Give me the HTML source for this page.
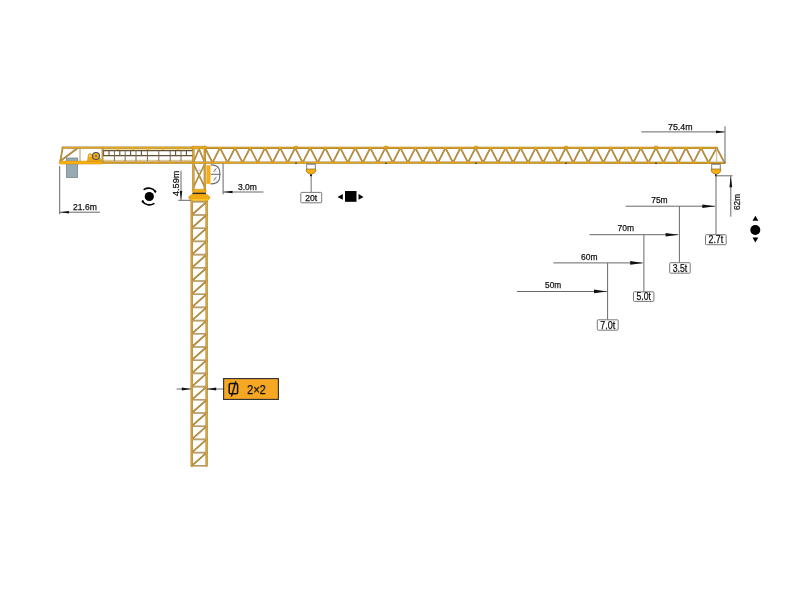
<!DOCTYPE html>
<html><head><meta charset="utf-8"><style>
html,body{margin:0;padding:0;background:#fff;width:800px;height:600px;overflow:hidden}
svg{display:block;filter:blur(0.3px)}
text{font-family:"Liberation Sans",sans-serif;stroke:#111;stroke-width:0.25px}
</style></head><body>
<svg width="800" height="600" viewBox="0 0 800 600">
<rect x="66.3" y="158" width="11.4" height="19.6" fill="#97AAB1" stroke="#6F8087" stroke-width="0.7"/>
<rect x="102" y="159.8" width="91" height="2.6" fill="#D9C89A"/>
<rect x="102" y="148.4" width="91" height="1.8" fill="#F3E2A8"/>
<g stroke="#5F5236" stroke-width="1.1">
<line x1="102" y1="150.6" x2="193" y2="150.6"/>
<line x1="102" y1="155.6" x2="193" y2="155.6"/>
<line x1="103.6" y1="150.6" x2="103.6" y2="155.6"/>
<line x1="109" y1="150.6" x2="109" y2="155.6"/>
<line x1="119.8" y1="150.6" x2="119.8" y2="155.6"/>
<line x1="130.6" y1="150.6" x2="130.6" y2="155.6"/>
<line x1="141.4" y1="150.6" x2="141.4" y2="155.6"/>
<line x1="175.6" y1="150.6" x2="175.6" y2="155.6"/>
<line x1="186.4" y1="150.6" x2="186.4" y2="155.6"/>
</g>
<g stroke="#7A6A4A" stroke-width="1">
<line x1="114.4" y1="150.6" x2="114.4" y2="161"/>
<line x1="125.2" y1="150.6" x2="125.2" y2="161"/>
<line x1="136" y1="150.6" x2="136" y2="161"/>
<line x1="147.4" y1="150.6" x2="147.4" y2="161"/>
<line x1="158.8" y1="150.6" x2="158.8" y2="161"/>
<line x1="170.2" y1="150.6" x2="170.2" y2="161"/>
<line x1="181" y1="150.6" x2="181" y2="161"/>
</g>
<line x1="80" y1="148.5" x2="80" y2="161" stroke="#C8B48A" stroke-width="1.4"/>
<g stroke-linecap="round">
<line x1="62.70" y1="147.60" x2="205.00" y2="147.60" stroke="#A08036" stroke-width="2.3"/>
<line x1="62.70" y1="147.60" x2="60.20" y2="161.50" stroke="#977A3E" stroke-width="1.7"/>
<line x1="61.00" y1="160.50" x2="77.50" y2="148.20" stroke="#977A3E" stroke-width="1.7"/>
<line x1="102.50" y1="147.60" x2="102.50" y2="162.50" stroke="#977A3E" stroke-width="1.7"/>
<line x1="193.40" y1="147.00" x2="193.40" y2="189.50" stroke="#A08036" stroke-width="2.3"/>
<line x1="204.80" y1="147.00" x2="204.80" y2="189.50" stroke="#A08036" stroke-width="2.3"/>
<line x1="193.40" y1="162.60" x2="204.80" y2="162.60" stroke="#A08036" stroke-width="2.3"/>
<line x1="193.60" y1="162.00" x2="199.00" y2="149.00" stroke="#977A3E" stroke-width="1.7"/>
<line x1="204.60" y1="162.00" x2="199.00" y2="149.00" stroke="#977A3E" stroke-width="1.7"/>
<line x1="194.00" y1="165.00" x2="204.30" y2="186.00" stroke="#977A3E" stroke-width="1.7"/>
<line x1="204.30" y1="165.00" x2="194.00" y2="186.00" stroke="#977A3E" stroke-width="1.7"/>
<line x1="191.70" y1="199.60" x2="191.70" y2="465.80" stroke="#A08036" stroke-width="2.3"/>
<line x1="206.60" y1="199.60" x2="206.60" y2="465.80" stroke="#A08036" stroke-width="2.3"/>
<line x1="191.70" y1="201.80" x2="206.60" y2="201.80" stroke="#A88C5E" stroke-width="1.6"/>
<line x1="191.70" y1="215.00" x2="206.60" y2="215.00" stroke="#A88C5E" stroke-width="1.6"/>
<line x1="191.70" y1="228.20" x2="206.60" y2="228.20" stroke="#A88C5E" stroke-width="1.6"/>
<line x1="191.70" y1="241.40" x2="206.60" y2="241.40" stroke="#A88C5E" stroke-width="1.6"/>
<line x1="191.70" y1="254.60" x2="206.60" y2="254.60" stroke="#A88C5E" stroke-width="1.6"/>
<line x1="191.70" y1="267.80" x2="206.60" y2="267.80" stroke="#A88C5E" stroke-width="1.6"/>
<line x1="191.70" y1="281.00" x2="206.60" y2="281.00" stroke="#A88C5E" stroke-width="1.6"/>
<line x1="191.70" y1="294.20" x2="206.60" y2="294.20" stroke="#A88C5E" stroke-width="1.6"/>
<line x1="191.70" y1="307.40" x2="206.60" y2="307.40" stroke="#A88C5E" stroke-width="1.6"/>
<line x1="191.70" y1="320.60" x2="206.60" y2="320.60" stroke="#A88C5E" stroke-width="1.6"/>
<line x1="191.70" y1="333.80" x2="206.60" y2="333.80" stroke="#A88C5E" stroke-width="1.6"/>
<line x1="191.70" y1="347.00" x2="206.60" y2="347.00" stroke="#A88C5E" stroke-width="1.6"/>
<line x1="191.70" y1="360.20" x2="206.60" y2="360.20" stroke="#A88C5E" stroke-width="1.6"/>
<line x1="191.70" y1="373.40" x2="206.60" y2="373.40" stroke="#A88C5E" stroke-width="1.6"/>
<line x1="191.70" y1="386.60" x2="206.60" y2="386.60" stroke="#A88C5E" stroke-width="1.6"/>
<line x1="191.70" y1="399.80" x2="206.60" y2="399.80" stroke="#A88C5E" stroke-width="1.6"/>
<line x1="191.70" y1="413.00" x2="206.60" y2="413.00" stroke="#A88C5E" stroke-width="1.6"/>
<line x1="191.70" y1="426.20" x2="206.60" y2="426.20" stroke="#A88C5E" stroke-width="1.6"/>
<line x1="191.70" y1="439.40" x2="206.60" y2="439.40" stroke="#A88C5E" stroke-width="1.6"/>
<line x1="191.70" y1="452.60" x2="206.60" y2="452.60" stroke="#A88C5E" stroke-width="1.6"/>
<line x1="191.70" y1="465.80" x2="206.60" y2="465.80" stroke="#A88C5E" stroke-width="1.6"/>
<line x1="191.70" y1="215.00" x2="206.60" y2="201.80" stroke="#977A3E" stroke-width="1.7"/>
<line x1="191.70" y1="228.20" x2="206.60" y2="215.00" stroke="#977A3E" stroke-width="1.7"/>
<line x1="191.70" y1="241.40" x2="206.60" y2="228.20" stroke="#977A3E" stroke-width="1.7"/>
<line x1="191.70" y1="254.60" x2="206.60" y2="241.40" stroke="#977A3E" stroke-width="1.7"/>
<line x1="191.70" y1="267.80" x2="206.60" y2="254.60" stroke="#977A3E" stroke-width="1.7"/>
<line x1="191.70" y1="281.00" x2="206.60" y2="267.80" stroke="#977A3E" stroke-width="1.7"/>
<line x1="191.70" y1="294.20" x2="206.60" y2="281.00" stroke="#977A3E" stroke-width="1.7"/>
<line x1="191.70" y1="307.40" x2="206.60" y2="294.20" stroke="#977A3E" stroke-width="1.7"/>
<line x1="191.70" y1="320.60" x2="206.60" y2="307.40" stroke="#977A3E" stroke-width="1.7"/>
<line x1="191.70" y1="333.80" x2="206.60" y2="320.60" stroke="#977A3E" stroke-width="1.7"/>
<line x1="191.70" y1="347.00" x2="206.60" y2="333.80" stroke="#977A3E" stroke-width="1.7"/>
<line x1="191.70" y1="360.20" x2="206.60" y2="347.00" stroke="#977A3E" stroke-width="1.7"/>
<line x1="191.70" y1="373.40" x2="206.60" y2="360.20" stroke="#977A3E" stroke-width="1.7"/>
<line x1="191.70" y1="386.60" x2="206.60" y2="373.40" stroke="#977A3E" stroke-width="1.7"/>
<line x1="191.70" y1="399.80" x2="206.60" y2="386.60" stroke="#977A3E" stroke-width="1.7"/>
<line x1="191.70" y1="413.00" x2="206.60" y2="399.80" stroke="#977A3E" stroke-width="1.7"/>
<line x1="191.70" y1="426.20" x2="206.60" y2="413.00" stroke="#977A3E" stroke-width="1.7"/>
<line x1="191.70" y1="439.40" x2="206.60" y2="426.20" stroke="#977A3E" stroke-width="1.7"/>
<line x1="191.70" y1="452.60" x2="206.60" y2="439.40" stroke="#977A3E" stroke-width="1.7"/>
<line x1="191.70" y1="465.80" x2="206.60" y2="452.60" stroke="#977A3E" stroke-width="1.7"/>
<line x1="205.00" y1="147.80" x2="716.70" y2="147.90" stroke="#A08036" stroke-width="2.3"/>
<line x1="205.00" y1="162.60" x2="724.60" y2="162.80" stroke="#A08036" stroke-width="2.3"/>
<line x1="205.00" y1="147.80" x2="212.50" y2="162.60" stroke="#977A3E" stroke-width="1.7"/>
<line x1="212.50" y1="162.60" x2="220.00" y2="147.90" stroke="#977A3E" stroke-width="1.7"/>
<line x1="220.00" y1="147.90" x2="227.53" y2="162.60" stroke="#977A3E" stroke-width="1.7"/>
<line x1="227.53" y1="162.60" x2="235.03" y2="147.90" stroke="#977A3E" stroke-width="1.7"/>
<line x1="235.03" y1="147.90" x2="242.56" y2="162.60" stroke="#977A3E" stroke-width="1.7"/>
<line x1="242.56" y1="162.60" x2="250.06" y2="147.90" stroke="#977A3E" stroke-width="1.7"/>
<line x1="250.06" y1="147.90" x2="257.59" y2="162.60" stroke="#977A3E" stroke-width="1.7"/>
<line x1="257.59" y1="162.60" x2="265.09" y2="147.90" stroke="#977A3E" stroke-width="1.7"/>
<line x1="265.09" y1="147.90" x2="272.62" y2="162.60" stroke="#977A3E" stroke-width="1.7"/>
<line x1="272.62" y1="162.60" x2="280.12" y2="147.90" stroke="#977A3E" stroke-width="1.7"/>
<line x1="280.12" y1="147.90" x2="287.65" y2="162.60" stroke="#977A3E" stroke-width="1.7"/>
<line x1="287.65" y1="162.60" x2="295.15" y2="147.90" stroke="#977A3E" stroke-width="1.7"/>
<line x1="295.15" y1="147.90" x2="302.68" y2="162.60" stroke="#977A3E" stroke-width="1.7"/>
<line x1="302.68" y1="162.60" x2="310.18" y2="147.90" stroke="#977A3E" stroke-width="1.7"/>
<line x1="310.18" y1="147.90" x2="317.71" y2="162.60" stroke="#977A3E" stroke-width="1.7"/>
<line x1="317.71" y1="162.60" x2="325.21" y2="147.90" stroke="#977A3E" stroke-width="1.7"/>
<line x1="325.21" y1="147.90" x2="332.74" y2="162.60" stroke="#977A3E" stroke-width="1.7"/>
<line x1="332.74" y1="162.60" x2="340.24" y2="147.90" stroke="#977A3E" stroke-width="1.7"/>
<line x1="340.24" y1="147.90" x2="347.77" y2="162.60" stroke="#977A3E" stroke-width="1.7"/>
<line x1="347.77" y1="162.60" x2="355.27" y2="147.90" stroke="#977A3E" stroke-width="1.7"/>
<line x1="355.27" y1="147.90" x2="362.80" y2="162.60" stroke="#977A3E" stroke-width="1.7"/>
<line x1="362.80" y1="162.60" x2="370.30" y2="147.90" stroke="#977A3E" stroke-width="1.7"/>
<line x1="370.30" y1="147.90" x2="377.83" y2="162.60" stroke="#977A3E" stroke-width="1.7"/>
<line x1="377.83" y1="162.60" x2="385.33" y2="147.90" stroke="#977A3E" stroke-width="1.7"/>
<line x1="385.33" y1="147.90" x2="392.86" y2="162.60" stroke="#977A3E" stroke-width="1.7"/>
<line x1="392.86" y1="162.60" x2="400.36" y2="147.90" stroke="#977A3E" stroke-width="1.7"/>
<line x1="400.36" y1="147.90" x2="407.89" y2="162.60" stroke="#977A3E" stroke-width="1.7"/>
<line x1="407.89" y1="162.60" x2="415.39" y2="147.90" stroke="#977A3E" stroke-width="1.7"/>
<line x1="415.39" y1="147.90" x2="422.92" y2="162.60" stroke="#977A3E" stroke-width="1.7"/>
<line x1="422.92" y1="162.60" x2="430.42" y2="147.90" stroke="#977A3E" stroke-width="1.7"/>
<line x1="430.42" y1="147.90" x2="437.95" y2="162.60" stroke="#977A3E" stroke-width="1.7"/>
<line x1="437.95" y1="162.60" x2="445.45" y2="147.90" stroke="#977A3E" stroke-width="1.7"/>
<line x1="445.45" y1="147.90" x2="452.98" y2="162.60" stroke="#977A3E" stroke-width="1.7"/>
<line x1="452.98" y1="162.60" x2="460.48" y2="147.90" stroke="#977A3E" stroke-width="1.7"/>
<line x1="460.48" y1="147.90" x2="468.01" y2="162.60" stroke="#977A3E" stroke-width="1.7"/>
<line x1="468.01" y1="162.60" x2="475.51" y2="147.90" stroke="#977A3E" stroke-width="1.7"/>
<line x1="475.51" y1="147.90" x2="483.04" y2="162.60" stroke="#977A3E" stroke-width="1.7"/>
<line x1="483.04" y1="162.60" x2="490.54" y2="147.90" stroke="#977A3E" stroke-width="1.7"/>
<line x1="490.54" y1="147.90" x2="498.07" y2="162.60" stroke="#977A3E" stroke-width="1.7"/>
<line x1="498.07" y1="162.60" x2="505.57" y2="147.90" stroke="#977A3E" stroke-width="1.7"/>
<line x1="505.57" y1="147.90" x2="513.10" y2="162.60" stroke="#977A3E" stroke-width="1.7"/>
<line x1="513.10" y1="162.60" x2="520.60" y2="147.90" stroke="#977A3E" stroke-width="1.7"/>
<line x1="520.60" y1="147.90" x2="528.13" y2="162.60" stroke="#977A3E" stroke-width="1.7"/>
<line x1="528.13" y1="162.60" x2="535.63" y2="147.90" stroke="#977A3E" stroke-width="1.7"/>
<line x1="535.63" y1="147.90" x2="543.16" y2="162.60" stroke="#977A3E" stroke-width="1.7"/>
<line x1="543.16" y1="162.60" x2="550.66" y2="147.90" stroke="#977A3E" stroke-width="1.7"/>
<line x1="550.66" y1="147.90" x2="558.19" y2="162.60" stroke="#977A3E" stroke-width="1.7"/>
<line x1="558.19" y1="162.60" x2="565.69" y2="147.90" stroke="#977A3E" stroke-width="1.7"/>
<line x1="565.69" y1="147.90" x2="573.22" y2="162.60" stroke="#977A3E" stroke-width="1.7"/>
<line x1="573.22" y1="162.60" x2="580.72" y2="147.90" stroke="#977A3E" stroke-width="1.7"/>
<line x1="580.72" y1="147.90" x2="588.25" y2="162.60" stroke="#977A3E" stroke-width="1.7"/>
<line x1="588.25" y1="162.60" x2="595.75" y2="147.90" stroke="#977A3E" stroke-width="1.7"/>
<line x1="595.75" y1="147.90" x2="603.28" y2="162.60" stroke="#977A3E" stroke-width="1.7"/>
<line x1="603.28" y1="162.60" x2="610.78" y2="147.90" stroke="#977A3E" stroke-width="1.7"/>
<line x1="610.78" y1="147.90" x2="618.31" y2="162.60" stroke="#977A3E" stroke-width="1.7"/>
<line x1="618.31" y1="162.60" x2="625.81" y2="147.90" stroke="#977A3E" stroke-width="1.7"/>
<line x1="625.81" y1="147.90" x2="633.34" y2="162.60" stroke="#977A3E" stroke-width="1.7"/>
<line x1="633.34" y1="162.60" x2="640.84" y2="147.90" stroke="#977A3E" stroke-width="1.7"/>
<line x1="640.84" y1="147.90" x2="648.37" y2="162.60" stroke="#977A3E" stroke-width="1.7"/>
<line x1="648.37" y1="162.60" x2="655.87" y2="147.90" stroke="#977A3E" stroke-width="1.7"/>
<line x1="655.87" y1="147.90" x2="663.40" y2="162.60" stroke="#977A3E" stroke-width="1.7"/>
<line x1="663.40" y1="162.60" x2="670.90" y2="147.90" stroke="#977A3E" stroke-width="1.7"/>
<line x1="670.90" y1="147.90" x2="678.43" y2="162.60" stroke="#977A3E" stroke-width="1.7"/>
<line x1="678.43" y1="162.60" x2="685.93" y2="147.90" stroke="#977A3E" stroke-width="1.7"/>
<line x1="685.93" y1="147.90" x2="693.46" y2="162.60" stroke="#977A3E" stroke-width="1.7"/>
<line x1="693.46" y1="162.60" x2="700.96" y2="147.90" stroke="#977A3E" stroke-width="1.7"/>
<line x1="700.96" y1="147.90" x2="708.49" y2="162.60" stroke="#977A3E" stroke-width="1.7"/>
<line x1="708.50" y1="162.60" x2="716.70" y2="147.90" stroke="#977A3E" stroke-width="1.7"/>
<line x1="716.70" y1="147.90" x2="724.60" y2="162.80" stroke="#977A3E" stroke-width="1.7"/>
<line x1="102" y1="162.8" x2="193" y2="162.8" stroke="#A97F2C" stroke-width="2"/>
<line x1="62.70" y1="147.60" x2="205.00" y2="147.60" stroke="#E6A622" stroke-width="1.1"/>
<line x1="62.70" y1="147.60" x2="60.20" y2="161.50" stroke="#DAA032" stroke-width="0.7"/>
<line x1="61.00" y1="160.50" x2="77.50" y2="148.20" stroke="#DAA032" stroke-width="0.7"/>
<line x1="102.50" y1="147.60" x2="102.50" y2="162.50" stroke="#DAA032" stroke-width="0.7"/>
<line x1="193.40" y1="147.00" x2="193.40" y2="189.50" stroke="#E6A622" stroke-width="1.1"/>
<line x1="204.80" y1="147.00" x2="204.80" y2="189.50" stroke="#E6A622" stroke-width="1.1"/>
<line x1="193.40" y1="162.60" x2="204.80" y2="162.60" stroke="#E6A622" stroke-width="1.1"/>
<line x1="193.60" y1="162.00" x2="199.00" y2="149.00" stroke="#DAA032" stroke-width="0.7"/>
<line x1="204.60" y1="162.00" x2="199.00" y2="149.00" stroke="#DAA032" stroke-width="0.7"/>
<line x1="194.00" y1="165.00" x2="204.30" y2="186.00" stroke="#DAA032" stroke-width="0.7"/>
<line x1="204.30" y1="165.00" x2="194.00" y2="186.00" stroke="#DAA032" stroke-width="0.7"/>
<line x1="191.70" y1="199.60" x2="191.70" y2="465.80" stroke="#E6A622" stroke-width="1.1"/>
<line x1="206.60" y1="199.60" x2="206.60" y2="465.80" stroke="#E6A622" stroke-width="1.1"/>
<line x1="191.70" y1="201.80" x2="206.60" y2="201.80" stroke="#CDAA6A" stroke-width="0.7"/>
<line x1="191.70" y1="215.00" x2="206.60" y2="215.00" stroke="#CDAA6A" stroke-width="0.7"/>
<line x1="191.70" y1="228.20" x2="206.60" y2="228.20" stroke="#CDAA6A" stroke-width="0.7"/>
<line x1="191.70" y1="241.40" x2="206.60" y2="241.40" stroke="#CDAA6A" stroke-width="0.7"/>
<line x1="191.70" y1="254.60" x2="206.60" y2="254.60" stroke="#CDAA6A" stroke-width="0.7"/>
<line x1="191.70" y1="267.80" x2="206.60" y2="267.80" stroke="#CDAA6A" stroke-width="0.7"/>
<line x1="191.70" y1="281.00" x2="206.60" y2="281.00" stroke="#CDAA6A" stroke-width="0.7"/>
<line x1="191.70" y1="294.20" x2="206.60" y2="294.20" stroke="#CDAA6A" stroke-width="0.7"/>
<line x1="191.70" y1="307.40" x2="206.60" y2="307.40" stroke="#CDAA6A" stroke-width="0.7"/>
<line x1="191.70" y1="320.60" x2="206.60" y2="320.60" stroke="#CDAA6A" stroke-width="0.7"/>
<line x1="191.70" y1="333.80" x2="206.60" y2="333.80" stroke="#CDAA6A" stroke-width="0.7"/>
<line x1="191.70" y1="347.00" x2="206.60" y2="347.00" stroke="#CDAA6A" stroke-width="0.7"/>
<line x1="191.70" y1="360.20" x2="206.60" y2="360.20" stroke="#CDAA6A" stroke-width="0.7"/>
<line x1="191.70" y1="373.40" x2="206.60" y2="373.40" stroke="#CDAA6A" stroke-width="0.7"/>
<line x1="191.70" y1="386.60" x2="206.60" y2="386.60" stroke="#CDAA6A" stroke-width="0.7"/>
<line x1="191.70" y1="399.80" x2="206.60" y2="399.80" stroke="#CDAA6A" stroke-width="0.7"/>
<line x1="191.70" y1="413.00" x2="206.60" y2="413.00" stroke="#CDAA6A" stroke-width="0.7"/>
<line x1="191.70" y1="426.20" x2="206.60" y2="426.20" stroke="#CDAA6A" stroke-width="0.7"/>
<line x1="191.70" y1="439.40" x2="206.60" y2="439.40" stroke="#CDAA6A" stroke-width="0.7"/>
<line x1="191.70" y1="452.60" x2="206.60" y2="452.60" stroke="#CDAA6A" stroke-width="0.7"/>
<line x1="191.70" y1="465.80" x2="206.60" y2="465.80" stroke="#CDAA6A" stroke-width="0.7"/>
<line x1="191.70" y1="215.00" x2="206.60" y2="201.80" stroke="#DAA032" stroke-width="0.7"/>
<line x1="191.70" y1="228.20" x2="206.60" y2="215.00" stroke="#DAA032" stroke-width="0.7"/>
<line x1="191.70" y1="241.40" x2="206.60" y2="228.20" stroke="#DAA032" stroke-width="0.7"/>
<line x1="191.70" y1="254.60" x2="206.60" y2="241.40" stroke="#DAA032" stroke-width="0.7"/>
<line x1="191.70" y1="267.80" x2="206.60" y2="254.60" stroke="#DAA032" stroke-width="0.7"/>
<line x1="191.70" y1="281.00" x2="206.60" y2="267.80" stroke="#DAA032" stroke-width="0.7"/>
<line x1="191.70" y1="294.20" x2="206.60" y2="281.00" stroke="#DAA032" stroke-width="0.7"/>
<line x1="191.70" y1="307.40" x2="206.60" y2="294.20" stroke="#DAA032" stroke-width="0.7"/>
<line x1="191.70" y1="320.60" x2="206.60" y2="307.40" stroke="#DAA032" stroke-width="0.7"/>
<line x1="191.70" y1="333.80" x2="206.60" y2="320.60" stroke="#DAA032" stroke-width="0.7"/>
<line x1="191.70" y1="347.00" x2="206.60" y2="333.80" stroke="#DAA032" stroke-width="0.7"/>
<line x1="191.70" y1="360.20" x2="206.60" y2="347.00" stroke="#DAA032" stroke-width="0.7"/>
<line x1="191.70" y1="373.40" x2="206.60" y2="360.20" stroke="#DAA032" stroke-width="0.7"/>
<line x1="191.70" y1="386.60" x2="206.60" y2="373.40" stroke="#DAA032" stroke-width="0.7"/>
<line x1="191.70" y1="399.80" x2="206.60" y2="386.60" stroke="#DAA032" stroke-width="0.7"/>
<line x1="191.70" y1="413.00" x2="206.60" y2="399.80" stroke="#DAA032" stroke-width="0.7"/>
<line x1="191.70" y1="426.20" x2="206.60" y2="413.00" stroke="#DAA032" stroke-width="0.7"/>
<line x1="191.70" y1="439.40" x2="206.60" y2="426.20" stroke="#DAA032" stroke-width="0.7"/>
<line x1="191.70" y1="452.60" x2="206.60" y2="439.40" stroke="#DAA032" stroke-width="0.7"/>
<line x1="191.70" y1="465.80" x2="206.60" y2="452.60" stroke="#DAA032" stroke-width="0.7"/>
<line x1="205.00" y1="147.80" x2="716.70" y2="147.90" stroke="#E6A622" stroke-width="1.1"/>
<line x1="205.00" y1="162.60" x2="724.60" y2="162.80" stroke="#E6A622" stroke-width="1.1"/>
<line x1="205.00" y1="147.80" x2="212.50" y2="162.60" stroke="#DAA032" stroke-width="0.7"/>
<line x1="212.50" y1="162.60" x2="220.00" y2="147.90" stroke="#DAA032" stroke-width="0.7"/>
<line x1="220.00" y1="147.90" x2="227.53" y2="162.60" stroke="#DAA032" stroke-width="0.7"/>
<line x1="227.53" y1="162.60" x2="235.03" y2="147.90" stroke="#DAA032" stroke-width="0.7"/>
<line x1="235.03" y1="147.90" x2="242.56" y2="162.60" stroke="#DAA032" stroke-width="0.7"/>
<line x1="242.56" y1="162.60" x2="250.06" y2="147.90" stroke="#DAA032" stroke-width="0.7"/>
<line x1="250.06" y1="147.90" x2="257.59" y2="162.60" stroke="#DAA032" stroke-width="0.7"/>
<line x1="257.59" y1="162.60" x2="265.09" y2="147.90" stroke="#DAA032" stroke-width="0.7"/>
<line x1="265.09" y1="147.90" x2="272.62" y2="162.60" stroke="#DAA032" stroke-width="0.7"/>
<line x1="272.62" y1="162.60" x2="280.12" y2="147.90" stroke="#DAA032" stroke-width="0.7"/>
<line x1="280.12" y1="147.90" x2="287.65" y2="162.60" stroke="#DAA032" stroke-width="0.7"/>
<line x1="287.65" y1="162.60" x2="295.15" y2="147.90" stroke="#DAA032" stroke-width="0.7"/>
<line x1="295.15" y1="147.90" x2="302.68" y2="162.60" stroke="#DAA032" stroke-width="0.7"/>
<line x1="302.68" y1="162.60" x2="310.18" y2="147.90" stroke="#DAA032" stroke-width="0.7"/>
<line x1="310.18" y1="147.90" x2="317.71" y2="162.60" stroke="#DAA032" stroke-width="0.7"/>
<line x1="317.71" y1="162.60" x2="325.21" y2="147.90" stroke="#DAA032" stroke-width="0.7"/>
<line x1="325.21" y1="147.90" x2="332.74" y2="162.60" stroke="#DAA032" stroke-width="0.7"/>
<line x1="332.74" y1="162.60" x2="340.24" y2="147.90" stroke="#DAA032" stroke-width="0.7"/>
<line x1="340.24" y1="147.90" x2="347.77" y2="162.60" stroke="#DAA032" stroke-width="0.7"/>
<line x1="347.77" y1="162.60" x2="355.27" y2="147.90" stroke="#DAA032" stroke-width="0.7"/>
<line x1="355.27" y1="147.90" x2="362.80" y2="162.60" stroke="#DAA032" stroke-width="0.7"/>
<line x1="362.80" y1="162.60" x2="370.30" y2="147.90" stroke="#DAA032" stroke-width="0.7"/>
<line x1="370.30" y1="147.90" x2="377.83" y2="162.60" stroke="#DAA032" stroke-width="0.7"/>
<line x1="377.83" y1="162.60" x2="385.33" y2="147.90" stroke="#DAA032" stroke-width="0.7"/>
<line x1="385.33" y1="147.90" x2="392.86" y2="162.60" stroke="#DAA032" stroke-width="0.7"/>
<line x1="392.86" y1="162.60" x2="400.36" y2="147.90" stroke="#DAA032" stroke-width="0.7"/>
<line x1="400.36" y1="147.90" x2="407.89" y2="162.60" stroke="#DAA032" stroke-width="0.7"/>
<line x1="407.89" y1="162.60" x2="415.39" y2="147.90" stroke="#DAA032" stroke-width="0.7"/>
<line x1="415.39" y1="147.90" x2="422.92" y2="162.60" stroke="#DAA032" stroke-width="0.7"/>
<line x1="422.92" y1="162.60" x2="430.42" y2="147.90" stroke="#DAA032" stroke-width="0.7"/>
<line x1="430.42" y1="147.90" x2="437.95" y2="162.60" stroke="#DAA032" stroke-width="0.7"/>
<line x1="437.95" y1="162.60" x2="445.45" y2="147.90" stroke="#DAA032" stroke-width="0.7"/>
<line x1="445.45" y1="147.90" x2="452.98" y2="162.60" stroke="#DAA032" stroke-width="0.7"/>
<line x1="452.98" y1="162.60" x2="460.48" y2="147.90" stroke="#DAA032" stroke-width="0.7"/>
<line x1="460.48" y1="147.90" x2="468.01" y2="162.60" stroke="#DAA032" stroke-width="0.7"/>
<line x1="468.01" y1="162.60" x2="475.51" y2="147.90" stroke="#DAA032" stroke-width="0.7"/>
<line x1="475.51" y1="147.90" x2="483.04" y2="162.60" stroke="#DAA032" stroke-width="0.7"/>
<line x1="483.04" y1="162.60" x2="490.54" y2="147.90" stroke="#DAA032" stroke-width="0.7"/>
<line x1="490.54" y1="147.90" x2="498.07" y2="162.60" stroke="#DAA032" stroke-width="0.7"/>
<line x1="498.07" y1="162.60" x2="505.57" y2="147.90" stroke="#DAA032" stroke-width="0.7"/>
<line x1="505.57" y1="147.90" x2="513.10" y2="162.60" stroke="#DAA032" stroke-width="0.7"/>
<line x1="513.10" y1="162.60" x2="520.60" y2="147.90" stroke="#DAA032" stroke-width="0.7"/>
<line x1="520.60" y1="147.90" x2="528.13" y2="162.60" stroke="#DAA032" stroke-width="0.7"/>
<line x1="528.13" y1="162.60" x2="535.63" y2="147.90" stroke="#DAA032" stroke-width="0.7"/>
<line x1="535.63" y1="147.90" x2="543.16" y2="162.60" stroke="#DAA032" stroke-width="0.7"/>
<line x1="543.16" y1="162.60" x2="550.66" y2="147.90" stroke="#DAA032" stroke-width="0.7"/>
<line x1="550.66" y1="147.90" x2="558.19" y2="162.60" stroke="#DAA032" stroke-width="0.7"/>
<line x1="558.19" y1="162.60" x2="565.69" y2="147.90" stroke="#DAA032" stroke-width="0.7"/>
<line x1="565.69" y1="147.90" x2="573.22" y2="162.60" stroke="#DAA032" stroke-width="0.7"/>
<line x1="573.22" y1="162.60" x2="580.72" y2="147.90" stroke="#DAA032" stroke-width="0.7"/>
<line x1="580.72" y1="147.90" x2="588.25" y2="162.60" stroke="#DAA032" stroke-width="0.7"/>
<line x1="588.25" y1="162.60" x2="595.75" y2="147.90" stroke="#DAA032" stroke-width="0.7"/>
<line x1="595.75" y1="147.90" x2="603.28" y2="162.60" stroke="#DAA032" stroke-width="0.7"/>
<line x1="603.28" y1="162.60" x2="610.78" y2="147.90" stroke="#DAA032" stroke-width="0.7"/>
<line x1="610.78" y1="147.90" x2="618.31" y2="162.60" stroke="#DAA032" stroke-width="0.7"/>
<line x1="618.31" y1="162.60" x2="625.81" y2="147.90" stroke="#DAA032" stroke-width="0.7"/>
<line x1="625.81" y1="147.90" x2="633.34" y2="162.60" stroke="#DAA032" stroke-width="0.7"/>
<line x1="633.34" y1="162.60" x2="640.84" y2="147.90" stroke="#DAA032" stroke-width="0.7"/>
<line x1="640.84" y1="147.90" x2="648.37" y2="162.60" stroke="#DAA032" stroke-width="0.7"/>
<line x1="648.37" y1="162.60" x2="655.87" y2="147.90" stroke="#DAA032" stroke-width="0.7"/>
<line x1="655.87" y1="147.90" x2="663.40" y2="162.60" stroke="#DAA032" stroke-width="0.7"/>
<line x1="663.40" y1="162.60" x2="670.90" y2="147.90" stroke="#DAA032" stroke-width="0.7"/>
<line x1="670.90" y1="147.90" x2="678.43" y2="162.60" stroke="#DAA032" stroke-width="0.7"/>
<line x1="678.43" y1="162.60" x2="685.93" y2="147.90" stroke="#DAA032" stroke-width="0.7"/>
<line x1="685.93" y1="147.90" x2="693.46" y2="162.60" stroke="#DAA032" stroke-width="0.7"/>
<line x1="693.46" y1="162.60" x2="700.96" y2="147.90" stroke="#DAA032" stroke-width="0.7"/>
<line x1="700.96" y1="147.90" x2="708.49" y2="162.60" stroke="#DAA032" stroke-width="0.7"/>
<line x1="708.50" y1="162.60" x2="716.70" y2="147.90" stroke="#DAA032" stroke-width="0.7"/>
<line x1="716.70" y1="147.90" x2="724.60" y2="162.80" stroke="#DAA032" stroke-width="0.7"/>
<line x1="102" y1="162.8" x2="193" y2="162.8" stroke="#E6A828" stroke-width="0.9"/>
</g>
<line x1="194" y1="170.2" x2="204.3" y2="170.2" stroke="#B8B8B0" stroke-width="0.9"/>
<line x1="716.7" y1="148.5" x2="716.7" y2="162.2" stroke="#C9B68A" stroke-width="1"/>
<rect x="59.3" y="161.1" width="42.8" height="3" rx="1" fill="#FAB010" stroke="#C58A12" stroke-width="0.5"/>
<path d="M87.5 161.2 L88.3 154.5 Q90 152.3 91.7 154.5 L92 158.5 L100.5 158.5 L101.5 161.2 Z" fill="#F2AA12" stroke="#B8860B" stroke-width="0.5"/>
<circle cx="90" cy="156" r="0.8" fill="#fff"/>
<circle cx="96" cy="156" r="3.5" fill="#F2AA12" stroke="#4A5058" stroke-width="1.1"/>
<circle cx="96" cy="156" r="1.1" fill="#707070"/>
<circle cx="212.50" cy="162.6" r="1.1" fill="#F2A800"/>
<circle cx="227.53" cy="162.6" r="1.1" fill="#F2A800"/>
<circle cx="242.56" cy="162.6" r="1.1" fill="#F2A800"/>
<circle cx="257.59" cy="162.6" r="1.1" fill="#F2A800"/>
<circle cx="272.62" cy="162.6" r="1.1" fill="#F2A800"/>
<circle cx="287.65" cy="162.6" r="1.1" fill="#F2A800"/>
<circle cx="302.68" cy="162.6" r="1.1" fill="#F2A800"/>
<circle cx="317.71" cy="162.6" r="1.1" fill="#F2A800"/>
<circle cx="332.74" cy="162.6" r="1.1" fill="#F2A800"/>
<circle cx="347.77" cy="162.6" r="1.1" fill="#F2A800"/>
<circle cx="362.80" cy="162.6" r="1.1" fill="#F2A800"/>
<circle cx="377.83" cy="162.6" r="1.1" fill="#F2A800"/>
<circle cx="392.86" cy="162.6" r="1.1" fill="#F2A800"/>
<circle cx="407.89" cy="162.6" r="1.1" fill="#F2A800"/>
<circle cx="422.92" cy="162.6" r="1.1" fill="#F2A800"/>
<circle cx="437.95" cy="162.6" r="1.1" fill="#F2A800"/>
<circle cx="452.98" cy="162.6" r="1.1" fill="#F2A800"/>
<circle cx="468.01" cy="162.6" r="1.1" fill="#F2A800"/>
<circle cx="483.04" cy="162.6" r="1.1" fill="#F2A800"/>
<circle cx="498.07" cy="162.6" r="1.1" fill="#F2A800"/>
<circle cx="513.10" cy="162.6" r="1.1" fill="#F2A800"/>
<circle cx="528.13" cy="162.6" r="1.1" fill="#F2A800"/>
<circle cx="543.16" cy="162.6" r="1.1" fill="#F2A800"/>
<circle cx="558.19" cy="162.6" r="1.1" fill="#F2A800"/>
<circle cx="573.22" cy="162.6" r="1.1" fill="#F2A800"/>
<circle cx="588.25" cy="162.6" r="1.1" fill="#F2A800"/>
<circle cx="603.28" cy="162.6" r="1.1" fill="#F2A800"/>
<circle cx="618.31" cy="162.6" r="1.1" fill="#F2A800"/>
<circle cx="633.34" cy="162.6" r="1.1" fill="#F2A800"/>
<circle cx="648.37" cy="162.6" r="1.1" fill="#F2A800"/>
<circle cx="663.40" cy="162.6" r="1.1" fill="#F2A800"/>
<circle cx="678.43" cy="162.6" r="1.1" fill="#F2A800"/>
<circle cx="693.46" cy="162.6" r="1.1" fill="#F2A800"/>
<circle cx="708.49" cy="162.6" r="1.1" fill="#F2A800"/>
<circle cx="220.00" cy="147.9" r="1.1" fill="#F2A800"/>
<circle cx="235.03" cy="147.9" r="1.1" fill="#F2A800"/>
<circle cx="250.06" cy="147.9" r="1.1" fill="#F2A800"/>
<circle cx="265.09" cy="147.9" r="1.1" fill="#F2A800"/>
<circle cx="280.12" cy="147.9" r="1.1" fill="#F2A800"/>
<circle cx="295.15" cy="147.9" r="1.1" fill="#F2A800"/>
<circle cx="310.18" cy="147.9" r="1.1" fill="#F2A800"/>
<circle cx="325.21" cy="147.9" r="1.1" fill="#F2A800"/>
<circle cx="340.24" cy="147.9" r="1.1" fill="#F2A800"/>
<circle cx="355.27" cy="147.9" r="1.1" fill="#F2A800"/>
<circle cx="370.30" cy="147.9" r="1.1" fill="#F2A800"/>
<circle cx="385.33" cy="147.9" r="1.1" fill="#F2A800"/>
<circle cx="400.36" cy="147.9" r="1.1" fill="#F2A800"/>
<circle cx="415.39" cy="147.9" r="1.1" fill="#F2A800"/>
<circle cx="430.42" cy="147.9" r="1.1" fill="#F2A800"/>
<circle cx="445.45" cy="147.9" r="1.1" fill="#F2A800"/>
<circle cx="460.48" cy="147.9" r="1.1" fill="#F2A800"/>
<circle cx="475.51" cy="147.9" r="1.1" fill="#F2A800"/>
<circle cx="490.54" cy="147.9" r="1.1" fill="#F2A800"/>
<circle cx="505.57" cy="147.9" r="1.1" fill="#F2A800"/>
<circle cx="520.60" cy="147.9" r="1.1" fill="#F2A800"/>
<circle cx="535.63" cy="147.9" r="1.1" fill="#F2A800"/>
<circle cx="550.66" cy="147.9" r="1.1" fill="#F2A800"/>
<circle cx="565.69" cy="147.9" r="1.1" fill="#F2A800"/>
<circle cx="580.72" cy="147.9" r="1.1" fill="#F2A800"/>
<circle cx="595.75" cy="147.9" r="1.1" fill="#F2A800"/>
<circle cx="610.78" cy="147.9" r="1.1" fill="#F2A800"/>
<circle cx="625.81" cy="147.9" r="1.1" fill="#F2A800"/>
<circle cx="640.84" cy="147.9" r="1.1" fill="#F2A800"/>
<circle cx="655.87" cy="147.9" r="1.1" fill="#F2A800"/>
<circle cx="670.90" cy="147.9" r="1.1" fill="#F2A800"/>
<circle cx="685.93" cy="147.9" r="1.1" fill="#F2A800"/>
<circle cx="700.96" cy="147.9" r="1.1" fill="#F2A800"/>
<circle cx="118" cy="148.6" r="1.3" fill="#F0A810"/>
<circle cx="133" cy="148.6" r="1.3" fill="#F0A810"/>
<circle cx="148" cy="148.6" r="1.3" fill="#F0A810"/>
<circle cx="163" cy="148.6" r="1.3" fill="#F0A810"/>
<circle cx="178" cy="148.6" r="1.3" fill="#F0A810"/>
<circle cx="110" cy="161.8" r="1.1" fill="#F0A810"/>
<circle cx="125" cy="161.8" r="1.1" fill="#F0A810"/>
<circle cx="140" cy="161.8" r="1.1" fill="#F0A810"/>
<circle cx="155.7" cy="161.8" r="1.1" fill="#F0A810"/>
<circle cx="170.7" cy="161.8" r="1.1" fill="#F0A810"/>
<circle cx="185.7" cy="161.8" r="1.1" fill="#F0A810"/>
<ellipse cx="296" cy="147.1" rx="2" ry="1.2" fill="#E8A818" stroke="#B08020" stroke-width="0.4"/>
<circle cx="296" cy="163.2" r="0.8" fill="#222"/>
<ellipse cx="386" cy="147.1" rx="2" ry="1.2" fill="#E8A818" stroke="#B08020" stroke-width="0.4"/>
<circle cx="386" cy="163.2" r="0.8" fill="#222"/>
<ellipse cx="476" cy="147.1" rx="2" ry="1.2" fill="#E8A818" stroke="#B08020" stroke-width="0.4"/>
<circle cx="476" cy="163.2" r="0.8" fill="#222"/>
<ellipse cx="566" cy="147.1" rx="2" ry="1.2" fill="#E8A818" stroke="#B08020" stroke-width="0.4"/>
<circle cx="566" cy="163.2" r="0.8" fill="#222"/>
<ellipse cx="656" cy="147.1" rx="2" ry="1.2" fill="#E8A818" stroke="#B08020" stroke-width="0.4"/>
<circle cx="656" cy="163.2" r="0.8" fill="#222"/>
<rect x="191.6" y="146.3" width="15.2" height="2.6" rx="1" fill="#EFAA18" stroke="#A8842E" stroke-width="0.5"/>
<rect x="192.3" y="189.3" width="13.8" height="3.4" rx="1" fill="#F4AC14" stroke="#B88A20" stroke-width="0.5"/>
<rect x="192.4" y="192.8" width="13.6" height="1.3" rx="0.5" fill="#101018"/>
<path d="M192.4 194 L206.2 194 Q208.2 195.6 209.8 196.8 Q210.6 198.2 208.6 199.2 L208 200.6 L190.6 200.6 L190 199.2 Q188 198.2 188.8 196.8 Q190.4 195.6 192.4 194 Z" fill="#F2AA12" stroke="#B8860B" stroke-width="0.5"/>
<rect x="190.6" y="199.1" width="17.4" height="1.4" fill="#FBC52A"/>
<rect x="205.6" y="165" width="1.3" height="19" fill="#D8C898"/>
<rect x="206.8" y="165.2" width="3.9" height="18.7" fill="#F6AE10"/>
<path d="M210.7 164.9 Q217.6 164.9 219.4 169.6 Q220.6 174.4 219.4 179.2 Q217.6 183.9 210.7 183.9" fill="#FFFFFF" stroke="#6C6C6C" stroke-width="1.1"/>
<line x1="210.7" y1="174.3" x2="220.2" y2="174.3" stroke="#555" stroke-width="0.9"/>
<path d="M213.6 172 L216.4 168.2 M213.8 169.2 L214.2 169.6 M215.8 171.2 L216.4 171.8" stroke="#555" stroke-width="0.8"/>
<path d="M213.6 180.6 L216.4 176.8 M213.8 177.8 L214.2 178.2 M215.8 179.8 L216.4 180.4" stroke="#555" stroke-width="0.8"/>
<rect x="306.2" y="163.6" width="9.6" height="1.0" fill="#6A6050"/>
<line x1="306.7" y1="164.5" x2="306.7" y2="169.4" stroke="#7E7E7E" stroke-width="1"/>
<line x1="315.3" y1="164.5" x2="315.3" y2="169.4" stroke="#7E7E7E" stroke-width="1"/>
<path d="M306.4 169 L315.6 169 L315.8 171 Q315.0 173.4 311.0 174.5 Q307.0 173.4 306.2 171 Z" fill="#F8B010" stroke="#7A5C1A" stroke-width="0.6"/>
<circle cx="311.0" cy="175.4" r="1.05" fill="#1A1A30"/>
<rect x="711.2" y="163.6" width="9.6" height="1.0" fill="#6A6050"/>
<line x1="711.7" y1="164.5" x2="711.7" y2="169.4" stroke="#7E7E7E" stroke-width="1"/>
<line x1="720.3" y1="164.5" x2="720.3" y2="169.4" stroke="#7E7E7E" stroke-width="1"/>
<path d="M711.4 169 L720.6 169 L720.8 171 Q720.0 173.4 716.0 174.5 Q712.0 173.4 711.2 171 Z" fill="#F8B010" stroke="#7A5C1A" stroke-width="0.6"/>
<circle cx="716.0" cy="175.4" r="1.05" fill="#1A1A30"/>
<line x1="311.2" y1="176" x2="311.2" y2="192.4" stroke="#8A8A8A" stroke-width="1.2"/>
<rect x="300.8" y="192.4" width="20.9" height="10.4" rx="0.8" fill="#fff" stroke="#7A7A7A" stroke-width="1"/>
<text x="311.25" y="200.50" font-size="9.3" text-anchor="middle" textLength="12.0" lengthAdjust="spacingAndGlyphs" fill="#111">20t</text>
<line x1="716" y1="176" x2="716" y2="234.7" stroke="#686868" stroke-width="1"/>
<rect x="705.5" y="234.7" width="20.7" height="10.0" rx="0.8" fill="#fff" stroke="#7A7A7A" stroke-width="1"/>
<text x="715.85" y="243.30" font-size="10.1" text-anchor="middle" textLength="14.7" lengthAdjust="spacingAndGlyphs" fill="#111">2.7t</text>
<line x1="625.7" y1="206.2" x2="715" y2="206.2" stroke="#686868" stroke-width="1"/>
<path d="M715.3 206.2 L702.3 204.39999999999998 L702.3 208.0 Z" fill="#111"/>
<line x1="679.4" y1="206.2" x2="679.4" y2="262.7" stroke="#686868" stroke-width="1"/>
<rect x="669.7" y="262.7" width="20.5" height="10.5" rx="0.8" fill="#fff" stroke="#7A7A7A" stroke-width="1"/>
<text x="679.95" y="271.80" font-size="10.1" text-anchor="middle" textLength="14.5" lengthAdjust="spacingAndGlyphs" fill="#111">3.5t</text>
<line x1="589.5" y1="234.7" x2="678.2" y2="234.7" stroke="#686868" stroke-width="1"/>
<path d="M678.6 234.7 L665.6 232.89999999999998 L665.6 236.5 Z" fill="#111"/>
<line x1="643.9" y1="234.7" x2="643.9" y2="291.8" stroke="#686868" stroke-width="1"/>
<rect x="633.5" y="291.8" width="20.4" height="9.6" rx="0.8" fill="#fff" stroke="#7A7A7A" stroke-width="1"/>
<text x="643.70" y="300.00" font-size="10.1" text-anchor="middle" textLength="14.4" lengthAdjust="spacingAndGlyphs" fill="#111">5.0t</text>
<line x1="553.3" y1="262.9" x2="642.5" y2="262.9" stroke="#686868" stroke-width="1"/>
<path d="M643.2 262.9 L630.2 261.09999999999997 L630.2 264.7 Z" fill="#111"/>
<line x1="607.6" y1="262.9" x2="607.6" y2="320.2" stroke="#686868" stroke-width="1"/>
<rect x="597.3" y="319.8" width="20.9" height="10.4" rx="0.8" fill="#fff" stroke="#7A7A7A" stroke-width="1"/>
<text x="607.75" y="328.90" font-size="10.1" text-anchor="middle" textLength="15.0" lengthAdjust="spacingAndGlyphs" fill="#111">7.0t</text>
<line x1="516.9" y1="291.5" x2="607" y2="291.5" stroke="#686868" stroke-width="1"/>
<path d="M607 291.4 L594 289.59999999999997 L594 293.2 Z" fill="#111"/>
<text x="553.15" y="288.2" font-size="9.9" text-anchor="middle" textLength="16.1" lengthAdjust="spacingAndGlyphs" fill="#111" >50m</text>
<text x="589.25" y="259.7" font-size="9.9" text-anchor="middle" textLength="16.5" lengthAdjust="spacingAndGlyphs" fill="#111" >60m</text>
<text x="625.75" y="231.3" font-size="9.9" text-anchor="middle" textLength="16.5" lengthAdjust="spacingAndGlyphs" fill="#111" >70m</text>
<text x="659.45" y="202.70000000000002" font-size="9.9" text-anchor="middle" textLength="16.5" lengthAdjust="spacingAndGlyphs" fill="#111" >75m</text>
<line x1="641.3" y1="131.9" x2="725" y2="131.9" stroke="#686868" stroke-width="1"/>
<path d="M725 131.9 L716 130.6 L716 133.20000000000002 Z" fill="#111"/>
<line x1="725" y1="126.3" x2="725" y2="163" stroke="#686868" stroke-width="1"/>
<text x="680.25" y="129.70000000000002" font-size="9.9" text-anchor="middle" textLength="24.5" lengthAdjust="spacingAndGlyphs" fill="#111" >75.4m</text>
<line x1="716" y1="175.8" x2="732.5" y2="175.8" stroke="#686868" stroke-width="1"/>
<line x1="730.8" y1="175.8" x2="730.8" y2="216.7" stroke="#686868" stroke-width="1"/>
<path d="M730.8 176.3 L729.4 187.2 L732.2 187.2 Z" fill="#111"/>
<text transform="translate(740.2,202) rotate(-90)" x="0" y="0" font-size="9.9" text-anchor="middle" textLength="16" lengthAdjust="spacingAndGlyphs" fill="#111">62m</text>
<line x1="59.7" y1="166" x2="59.7" y2="214.4" stroke="#686868" stroke-width="1"/>
<line x1="59.7" y1="212.2" x2="100" y2="212.2" stroke="#686868" stroke-width="1"/>
<path d="M60 212.2 L69 210.89999999999998 L69 213.5 Z" fill="#111"/>
<text x="84.95" y="210.3" font-size="9.9" text-anchor="middle" textLength="23.9" lengthAdjust="spacingAndGlyphs" fill="#111" >21.6m</text>
<line x1="223.1" y1="163.5" x2="223.1" y2="194.4" stroke="#686868" stroke-width="1"/>
<line x1="223.1" y1="192" x2="263.5" y2="192" stroke="#686868" stroke-width="1"/>
<path d="M223.5 192 L232.5 190.7 L232.5 193.3 Z" fill="#111"/>
<text x="247.45" y="189.9" font-size="9.9" text-anchor="middle" textLength="18.9" lengthAdjust="spacingAndGlyphs" fill="#111" >3.0m</text>
<line x1="181" y1="170.7" x2="181" y2="200.3" stroke="#686868" stroke-width="1"/>
<line x1="178.3" y1="200.3" x2="191" y2="200.3" stroke="#686868" stroke-width="1"/>
<path d="M181 200 L179.8 191 L182.2 191 Z" fill="#111"/>
<text transform="translate(179,183.35) rotate(-90)" x="0" y="0" font-size="9.9" text-anchor="middle" textLength="25.3" lengthAdjust="spacingAndGlyphs" fill="#111">4.59m</text>
<line x1="176.6" y1="389" x2="191" y2="389" stroke="#686868" stroke-width="1"/>
<path d="M190.8 389 L181.8 387.4 L181.8 390.6 Z" fill="#111"/>
<line x1="207" y1="389" x2="223.3" y2="389" stroke="#686868" stroke-width="1"/>
<path d="M207.2 389 L216.2 387.4 L216.2 390.6 Z" fill="#111"/>
<rect x="223.6" y="378.6" width="54.8" height="20.8" fill="#F6A724" stroke="#2E2E2E" stroke-width="1.1"/>
<rect x="229.2" y="383.4" width="8.4" height="10.4" rx="1.6" fill="none" stroke="#111" stroke-width="1.5"/>
<line x1="231.4" y1="396.6" x2="235.9" y2="381.2" stroke="#111" stroke-width="1.4"/>
<text x="256.35" y="393.6" font-size="12.2" text-anchor="middle" textLength="18.7" lengthAdjust="spacingAndGlyphs" fill="#111" >2×2</text>
<circle cx="149.3" cy="196.5" r="4.6" fill="#000"/>
<path d="M144.2 189.4 A8.2 8.2 0 0 1 155.4 191.6" fill="none" stroke="#000" stroke-width="1.7" stroke-linecap="round"/>
<path d="M142.6 201.4 A8.2 8.2 0 0 0 153.8 203.6" fill="none" stroke="#000" stroke-width="1.7" stroke-linecap="round"/>
<circle cx="155.2" cy="191.6" r="1.15" fill="#000"/>
<circle cx="142.8" cy="201.4" r="1.15" fill="#000"/>
<rect x="345" y="191" width="11.5" height="10.8" fill="#000"/>
<path d="M337.5 197 L342.8 194 L342.8 199.8 Z" fill="#000"/>
<path d="M363.5 197 L358.5 194 L358.5 199.8 Z" fill="#000"/>
<path d="M755.4 215.8 L752.5 220.8 L758.3 220.8 Z" fill="#000"/>
<circle cx="755.3" cy="230" r="5" fill="#000"/>
<path d="M755.4 242.5 L752.5 237.5 L758.3 237.5 Z" fill="#000"/>
</svg>
</body></html>
